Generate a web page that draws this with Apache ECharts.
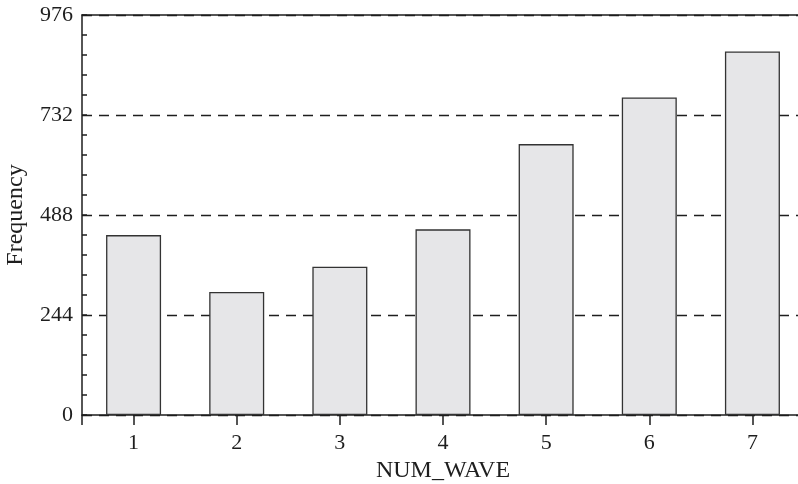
<!DOCTYPE html>
<html>
<head>
<meta charset="utf-8">
<script src="https://cdn.jsdelivr.net/npm/echarts@6/dist/echarts.min.js"></script>
<style>html,body{margin:0;padding:0;background:#fff;}#c{width:798px;height:484px;}</style>
</head>
<body>
<div id="c"></div>
<script>
const categories = ['1', '2', '3', '4', '5', '6', '7'];
const frequency = [439, 300, 362, 453, 661, 775, 887];
const yTicks = [0, 244, 488, 732, 976];

const chart = echarts.init(document.getElementById('c'), null, {renderer: 'canvas'});
const font = "'Liberation Serif', 'Times New Roman', serif";
const ink = '#1e1e1e';
chart.setOption({
  animation: false,
  backgroundColor: '#ffffff',
  grid: {left: 82, top: 15, width: 722, height: 400, containLabel: false, outerBoundsMode: 'none'},
  xAxis: [
    {
      type: 'category', data: categories, position: 'bottom',
      name: 'NUM_WAVE', nameLocation: 'middle', nameGap: 37,
      nameTextStyle: {fontFamily: font, fontSize: 24, color: ink},
      axisLine: {show: true, lineStyle: {color: ink, width: 1.5}},
      axisTick: {show: true, alignWithLabel: true, inside: false, length: 10, lineStyle: {color: ink, width: 1.5}},
      axisLabel: {fontFamily: font, fontSize: 22, color: ink, margin: 17},
      splitLine: {show: false}
    },
    {
      type: 'value', position: 'bottom', min: 0.5, max: 7.5, interval: 7,
      axisLine: {show: false},
      axisTick: {show: true, inside: false, length: 10, lineStyle: {color: ink, width: 1.5}},
      axisLabel: {show: false}, splitLine: {show: false}
    },
    {
      type: 'value', position: 'top', min: 0.5, max: 7.5,
      axisLine: {show: true, onZero: false, lineStyle: {color: ink, width: 1.5}},
      axisTick: {show: false}, axisLabel: {show: false}, splitLine: {show: false}
    }
  ],
  yAxis: {
    type: 'value', min: yTicks[0], max: yTicks[yTicks.length - 1], interval: yTicks[1] - yTicks[0],
    name: 'Frequency', nameLocation: 'middle', nameGap: 54, nameRotate: 90,
    nameTextStyle: {fontFamily: font, fontSize: 24, color: ink},
    axisLine: {show: true, lineStyle: {color: ink, width: 1.5}},
    axisTick: {show: true, inside: true, length: 5, lineStyle: {color: ink, width: 1.5}},
    minorTick: {show: true, splitNumber: 5, length: 5, lineStyle: {color: ink, width: 1.5}},
    axisLabel: {fontFamily: font, fontSize: 22, color: ink, margin: 9,
      formatter: v => yTicks.includes(v) ? String(v) : ''},
    splitLine: {show: true, lineStyle: {color: ink, width: 1.4, type: [10, 7]}}
  },
  series: [{
    type: 'bar', data: frequency, barWidth: 55, xAxisIndex: 0,
    itemStyle: {color: '#e6e6e8', borderColor: '#333333', borderWidth: 1.3},
    z: 3
  }]
});
</script>
</body>
</html>
